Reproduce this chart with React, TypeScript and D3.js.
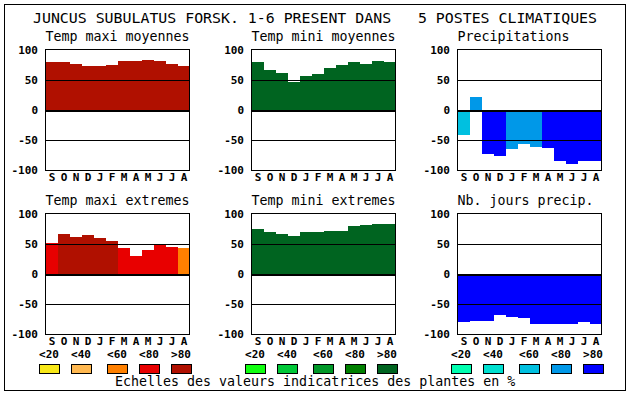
import React from "react";
import * as d3 from "d3";

const MONTHS = ["S", "O", "N", "D", "J", "F", "M", "A", "M", "J", "J", "A"];
const TICKS = [100, 50, 0, -50, -100];
const LEGEND_LABELS = ["<20", "<40", "<60", "<80", ">80"];

const RED_SCALE = ["#F8E818", "#FFB850", "#FF8000", "#E80000", "#B01000"];
const GREEN_SCALE = ["#10FF10", "#00C838", "#009828", "#008000", "#006420"];
const BLUE_SCALE = ["#00FFB0", "#00E0D0", "#00C0E0", "#0098E8", "#0000FF"];

const TMAX_MOY = [80, 80, 77, 74, 74, 75, 82, 82, 84, 82, 77, 74];
const TMAX_MOY_CLS = [4, 4, 4, 4, 4, 4, 4, 4, 4, 4, 4, 4];
const TMIN_MOY = [80, 67, 62, 47, 57, 60.5, 70.5, 75.5, 80.5, 77, 82, 80.5];
const TMIN_MOY_CLS = [4, 4, 4, 4, 4, 4, 4, 4, 4, 4, 4, 4];
const PRECIP = [-42, 22, -74, -77, -65.5, -57, -62, -64, -85.5, -90.5, -85.5, -85.5];
const PRECIP_CLS = [2, 3, 4, 4, 3, 3, 3, 4, 4, 4, 4, 4];
const TMAX_EXT = [52, 67, 62, 65.5, 60.5, 55.5, 44, 30.5, 40.5, 49, 45.5, 44];
const TMAX_EXT_CLS = [3, 4, 4, 4, 4, 4, 3, 3, 3, 3, 3, 2];
const TMIN_EXT = [75.5, 70.5, 67, 64, 70.5, 70.5, 72, 72, 80.5, 82, 84, 84];
const TMIN_EXT_CLS = [4, 4, 4, 4, 4, 4, 4, 4, 4, 4, 4, 4];
const NB_JOURS = [-80.5, -78, -78, -68, -72, -74, -84, -84, -83, -83, -80.5, -84];
const NB_JOURS_CLS = [4, 4, 4, 4, 4, 4, 4, 4, 4, 4, 4, 4];

const TITLE = "JUNCUS SUBULATUS FORSK. 1-6 PRESENT DANS   5 POSTES CLIMATIQUES";
const FOOTER = "Echelles des valeurs indicatrices des plantes en %";

const MONO = "'DejaVu Sans Mono', 'Liberation Mono', monospace";

type PanelProps = {
  title: string;
  left: number;
  top: number;
  values: number[];
  classes: number[];
  palette: string[];
};

function Panel({ title, left, top, values, classes, palette }: PanelProps) {
  const W = 144;
  const H = 120;
  const x = d3.scaleBand<number>().domain(d3.range(12)).range([left, left + W]).padding(0);
  const y = d3.scaleLinear().domain([-100, 100]).range([top + H, top]);
  return (
    <g>
      <text x={left - 0.5} y={top - 9} fontFamily={MONO} fontSize={13.3} fill="#000" style={{ whiteSpace: "pre" }}>
        {title}
      </text>
      {values.map((v, i) => (
        <rect
          key={i}
          x={x(i)}
          y={Math.round(y(Math.max(0, v)))}
          width={x.bandwidth()}
          height={Math.round(Math.abs(y(v) - y(0)))}
          fill={palette[classes[i]]}
          shapeRendering="crispEdges"
        />
      ))}
      {[50, -50].map((t) => (
        <line
          key={t}
          x1={left}
          x2={left + W}
          y1={y(t) + 0.5}
          y2={y(t) + 0.5}
          stroke="#000"
          strokeWidth={1}
          shapeRendering="crispEdges"
        />
      ))}
      <rect x={left} y={y(0) - 0.5} width={W} height={2} fill="#000" shapeRendering="crispEdges" />
      <rect
        x={left - 0.5}
        y={top - 0.5}
        width={W}
        height={H + 1}
        fill="none"
        stroke="#000"
        strokeWidth={1}
        shapeRendering="crispEdges"
      />
      {TICKS.map((t) => (
        <text
          key={t}
          x={left - 8}
          y={y(t)}
          dy="0.36em"
          textAnchor="end"
          fontFamily={MONO}
          fontWeight="bold"
          fontSize={11}
          fill="#000"
        >
          {t}
        </text>
      ))}
      {MONTHS.map((m, i) => (
        <text
          key={i}
          x={(x(i) as number) + x.bandwidth() / 2}
          y={top + H + 10.5}
          textAnchor="middle"
          fontFamily={MONO}
          fontWeight="bold"
          fontSize={11}
          fill="#000"
        >
          {m}
        </text>
      ))}
    </g>
  );
}

function Legend({ left, palette }: { left: number; palette: string[] }) {
  const offsets = [0, 32, 68, 100, 132];
  return (
    <g>
      {LEGEND_LABELS.map((l, i) => (
        <g key={i}>
          <text
            x={left + offsets[i] + 10}
            y={358}
            textAnchor="middle"
            fontFamily={MONO}
            fontWeight="bold"
            fontSize={11}
            fill="#000"
          >
            {l}
          </text>
          <rect
            x={left + offsets[i] + 0.5}
            y={364.5}
            width={20}
            height={9}
            fill={palette[i]}
            stroke="#000"
            strokeWidth={1}
            shapeRendering="crispEdges"
          />
        </g>
      ))}
    </g>
  );
}

export default function App() {
  return (
    <svg
      width={630}
      height={394}
      viewBox="0 0 630 394"
      style={{ position: "absolute", left: 0, top: 0, background: "#fff" }}
    >
      <rect x={0} y={0} width={630} height={394} fill="#fff" />
      <rect
        x={4.5}
        y={4.5}
        width={621}
        height={386}
        fill="none"
        stroke="#000"
        strokeWidth={1}
        shapeRendering="crispEdges"
      />
      <text
        x={315}
        y={23}
        textAnchor="middle"
        fontFamily={MONO}
        fontSize={14.5}
        fill="#000"
        textLength={564}
        lengthAdjust="spacingAndGlyphs"
        style={{ whiteSpace: "pre" }}
      >
        {TITLE}
      </text>
      <Panel title="Temp maxi moyennes" left={46} top={50} values={TMAX_MOY} classes={TMAX_MOY_CLS} palette={RED_SCALE} />
      <Panel title="Temp mini moyennes" left={252} top={50} values={TMIN_MOY} classes={TMIN_MOY_CLS} palette={GREEN_SCALE} />
      <Panel title="Precipitations" left={458} top={50} values={PRECIP} classes={PRECIP_CLS} palette={BLUE_SCALE} />
      <Panel title="Temp maxi extremes" left={46} top={214} values={TMAX_EXT} classes={TMAX_EXT_CLS} palette={RED_SCALE} />
      <Panel title="Temp mini extremes" left={252} top={214} values={TMIN_EXT} classes={TMIN_EXT_CLS} palette={GREEN_SCALE} />
      <Panel title="Nb. jours precip." left={458} top={214} values={NB_JOURS} classes={NB_JOURS_CLS} palette={BLUE_SCALE} />
      <Legend left={39} palette={RED_SCALE} />
      <Legend left={245} palette={GREEN_SCALE} />
      <Legend left={451} palette={BLUE_SCALE} />
      <text x={115} y={385.5} fontFamily={MONO} fontSize={13.3} fill="#000" style={{ whiteSpace: "pre" }}>
        {FOOTER}
      </text>
    </svg>
  );
}
